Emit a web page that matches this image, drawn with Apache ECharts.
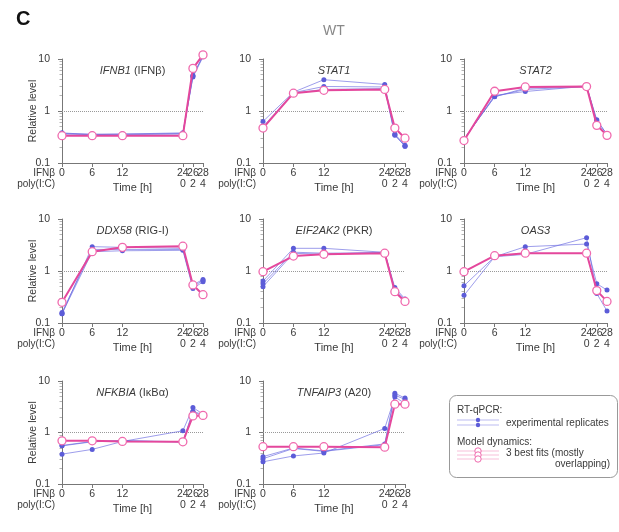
<!DOCTYPE html>
<html>
<head>
<meta charset="utf-8">
<script src="https://cdn.jsdelivr.net/npm/echarts@6/dist/echarts.min.js"></script>
<style>
  html, body { margin: 0; padding: 0; background: #fff; }
  #chart { width: 619px; height: 532px; }
</style>
</head>
<body>
<div id="chart"></div>
<script>
// time points (h) and x tick labels (IFNb time / poly(I:C) time)
const times = [0, 6, 12, 24, 26, 28]
const xTickValues = [0, 6, 12, 24, 26, 28]
const xTickLabels = ['0', '6', '12', '24\n0', '26\n2', '28\n4']
const xLabelsMain = [0, 6, 12, 24, 28]   // 26 goes on an overlay axis, too tight otherwise
const xLabelsExtra = [26]
const yTickLabels = { '0.1': '0.1', '1': '1', '10': '10' }
const yMinorTicks = [0.2, 0.3, 0.4, 0.5, 0.6, 0.7, 0.8, 0.9, 2, 3, 4, 5, 6, 7, 8, 9]

const genes = ['IFNB1', 'STAT1', 'STAT2', 'DDX58', 'EIF2AK2', 'OAS3', 'NFKBIA', 'TNFAIP3']
const proteins = ['IFNβ', '', '', 'RIG-I', 'PKR', '', 'IκBα', 'A20']

// RT-qPCR replicates
const ifnb1Reps = [
  [0.38, 0.35, 0.36, 0.38, 4.7, 11.4],
  [0.37, 0.36, 0.36, 0.37, 4.5, 11.0],
  [0.36, 0.35, 0.35, 0.36, 4.8, 11.6]
]
const stat1Reps = [
  [0.63, 2.3, 4.0, 3.24, 0.35, 0.21],
  [0.50, 2.25, 2.96, 2.9, 0.36, 0.22],
  [0.47, 2.2, 2.6, 2.7, 0.34, 0.21]
]
const stat2Reps = [
  [0.29, 1.87, 2.75, 3.0, 0.68, 0.35],
  [0.28, 2.0, 2.37, 3.0, 0.6, 0.33],
  [0.29, 1.9, 2.6, 2.95, 0.65, 0.36]
]
const ddx58Reps = [
  [0.15, 2.94, 2.85, 2.73, 0.54, 0.69],
  [0.15, 2.35, 2.45, 2.5, 0.46, 0.62],
  [0.16, 2.6, 2.6, 2.6, 0.5, 0.66]
]
const eif2ak2Reps = [
  [0.64, 2.73, 2.73, 2.29, 0.48, 0.29],
  [0.50, 2.19, 2.1, 2.29, 0.40, 0.27],
  [0.57, 2.3, 2.2, 2.25, 0.44, 0.28]
]
const oas3Reps = [
  [0.52, 1.88, 2.93, 3.3, 0.57, 0.43],
  [0.34, 1.88, 2.09, 4.37, 0.37, 0.17]
]
const nfkbiaReps = [
  [0.38, 0.47, 0.67, 1.08, 3.06, 2.27],
  [0.55, 0.66, 0.69, 0.65, 2.5, 2.1],
  [0.56, 0.67, 0.70, 0.66, 2.6, 2.2]
]
const tnfaip3Reps = [
  [0.34, 0.50, 0.44, 0.6, 5.8, 4.66],
  [0.27, 0.35, 0.40, 1.2, 4.9, 3.66],
  [0.31, 0.49, 0.43, 0.58, 5.3, 4.4]
]

// model best fits
const ifnb1Model = [0.335, 0.335, 0.335, 0.335, 6.6, 12]
const stat1Model = [0.47, 2.2, 2.5, 2.6, 0.47, 0.30]
const stat2Model = [0.27, 2.4, 2.9, 2.95, 0.53, 0.34]
const ddx58Model = [0.25, 2.35, 2.85, 3.0, 0.54, 0.35]
const eif2ak2Model = [0.97, 1.94, 2.1, 2.2, 0.40, 0.26]
const oas3Model = [0.97, 1.97, 2.2, 2.2, 0.42, 0.26]
const nfkbiaModel = [0.69, 0.69, 0.67, 0.66, 2.1, 2.15]
const tnfaip3Model = [0.53, 0.53, 0.53, 0.52, 3.55, 3.55]

const allReps = [ifnb1Reps, stat1Reps, stat2Reps, ddx58Reps, eif2ak2Reps, oas3Reps, nfkbiaReps, tnfaip3Reps]
const allModels = [ifnb1Model, stat1Model, stat2Model, ddx58Model, eif2ak2Model, oas3Model, nfkbiaModel, tnfaip3Model]

const FONT = '"Liberation Sans", Arial, sans-serif'
const TXT = '#3a3a3a'
const AXIS = '#777'
const BLUE = '#5c5cd8'
const BLUE_LINE = 'rgba(105, 105, 225, 0.65)'
const PINK = '#e4479c'
const PINK_RING = '#f06aae'

const colLeft = [62, 263, 464]
const colWidth = [141, 142, 143]
const rowTop = [59, 219, 381]
const rowHeight = [104, 104, 103]
const yOffset = 6

const pairs = (vals) => vals.map((v, k) => [times[k], v])
const xLabelText = v => xTickLabels[xTickValues.indexOf(v)]

const grids = []
const xAxes = []
const extraXAxes = []
const yAxes = []
const minorYAxes = []
const series = []
const graphics = []

genes.forEach((gene, i) => {
  const col = i % 3
  const row = Math.floor(i / 3)
  const left = colLeft[col]
  const top = rowTop[row]
  const w = colWidth[col]
  const h = rowHeight[row]
  grids.push({ left: left, top: top, width: w, height: h })
  const labelStyle = {
    formatter: xLabelText,
    showMinLabel: true,
    showMaxLabel: true,
    hideOverlap: false,
    color: TXT, fontSize: 10.5, fontFamily: FONT, lineHeight: 11, margin: 5
  }
  xAxes.push({
    type: 'value',
    gridIndex: i,
    min: 0,
    max: 28,
    name: 'Time [h]',
    nameLocation: 'middle',
    nameGap: 19,
    nameMoveOverlap: false,
    nameTextStyle: { color: TXT, fontSize: 11, fontFamily: FONT },
    axisLine: { lineStyle: { color: AXIS } },
    axisTick: { customValues: xTickValues, length: 4, lineStyle: { color: AXIS } },
    axisLabel: Object.assign({ customValues: xLabelsMain }, labelStyle),
    splitLine: { show: false }
  })
  extraXAxes.push({
    type: 'value',
    gridIndex: i,
    position: 'bottom',
    min: 0,
    max: 28,
    axisLine: { show: false },
    axisTick: { show: false },
    axisLabel: Object.assign({ customValues: xLabelsExtra }, labelStyle),
    splitLine: { show: false }
  })
  yAxes.push({
    type: 'log',
    logBase: 10,
    gridIndex: i,
    min: 0.1,
    max: 10,
    offset: yOffset,
    axisLine: { show: true, lineStyle: { color: AXIS } },
    axisTick: { show: true, length: 4, lineStyle: { color: AXIS } },
    minorTick: { show: false },
    axisLabel: {
      formatter: v => yTickLabels[String(+v.toPrecision(3))] || '',
      color: TXT, fontSize: 10.5, fontFamily: FONT, margin: 6
    },
    splitLine: { show: false }
  })
  minorYAxes.push({
    type: 'log',
    logBase: 10,
    gridIndex: i,
    position: 'left',
    min: 0.1,
    max: 10,
    offset: yOffset,
    axisLine: { show: false },
    axisTick: { show: true, customValues: yMinorTicks, length: 2.5, lineStyle: { color: '#b5b5b5' } },
    axisLabel: { show: false },
    splitLine: { show: false }
  })
  allReps[i].forEach((rep) => {
    series.push({
      type: 'line',
      xAxisIndex: i,
      yAxisIndex: i,
      data: pairs(rep),
      symbol: 'circle',
      symbolSize: 5,
      clip: false,
      itemStyle: { color: BLUE },
      lineStyle: { color: BLUE_LINE, width: 1 },
      z: 3,
      silent: true
    })
  })
  series.push({
    type: 'line',
    xAxisIndex: i,
    yAxisIndex: i,
    data: pairs(allModels[i]),
    symbol: 'circle',
    symbolSize: 8,
    clip: false,
    itemStyle: { color: '#fff', borderColor: PINK_RING, borderWidth: 1.3 },
    lineStyle: { color: PINK, width: 2 },
    z: 4,
    silent: true,
    markLine: {
      silent: true,
      symbol: 'none',
      label: { show: false },
      lineStyle: { color: '#999', type: 'dotted', width: 1 },
      data: [{ yAxis: 1 }],
      z: 1
    }
  })

  // gene title
  const prot = proteins[i] ? ' (' + proteins[i] + ')' : ''
  graphics.push({
    type: 'text',
    x: left + w / 2,
    y: top + 12,
    style: {
      text: '{g|' + gene + '}' + prot,
      align: 'center',
      verticalAlign: 'middle',
      fill: TXT,
      fontSize: 11,
      fontFamily: FONT,
      rich: { g: { fontStyle: 'italic', fontSize: 11, fontFamily: FONT, fill: TXT } }
    }
  })
  // treatment row labels
  graphics.push({
    type: 'text', x: left - 7, y: top + h + 10.5,
    style: { text: 'IFNβ', align: 'right', verticalAlign: 'middle', fill: TXT, fontSize: 10, fontFamily: FONT }
  })
  graphics.push({
    type: 'text', x: left - 7, y: top + h + 21.5,
    style: { text: 'poly(I:C)', align: 'right', verticalAlign: 'middle', fill: TXT, fontSize: 10, fontFamily: FONT }
  })
  if (col === 0) {
    graphics.push({
      type: 'text', x: 33, y: top + h / 2, rotation: Math.PI / 2,
      style: { text: 'Relative level', align: 'center', verticalAlign: 'middle', fill: TXT, fontSize: 10.5, fontFamily: FONT }
    })
  }
})

// panel letter and condition
graphics.push({
  type: 'text', x: 16, y: 19,
  style: { text: 'C', align: 'left', verticalAlign: 'middle', fill: '#111', fontSize: 20, fontWeight: 'bold', fontFamily: FONT }
})
graphics.push({
  type: 'text', x: 334, y: 31,
  style: { text: 'WT', align: 'center', verticalAlign: 'middle', fill: '#888', fontSize: 14, fontFamily: FONT }
})

// legend box
graphics.push({
  type: 'rect',
  shape: { x: 449.5, y: 395.5, width: 168, height: 82, r: 7 },
  style: { fill: 'none', stroke: '#999', lineWidth: 1 }
})
const legendText = (text, x, y, align) => ({
  type: 'text', x: x, y: y,
  style: { text: text, align: align || 'left', verticalAlign: 'middle', fill: TXT, fontSize: 10, fontFamily: FONT }
})
graphics.push(legendText('RT-qPCR:', 457, 410))
graphics.push(legendText('experimental replicates', 506, 423))
graphics.push(legendText('Model dynamics:', 457, 442))
graphics.push(legendText('3 best fits (mostly', 506, 453))
graphics.push(legendText('overlapping)', 610, 464, 'right'))
;[420, 425].forEach(y => {
  graphics.push({ type: 'line', shape: { x1: 457, y1: y, x2: 499, y2: y }, style: { stroke: 'rgba(105,105,225,0.45)', lineWidth: 1 } })
})
;[420, 425].forEach(y => {
  graphics.push({ type: 'circle', shape: { cx: 478, cy: y, r: 2.2 }, style: { fill: BLUE } })
})
;[451, 455, 459].forEach(y => {
  graphics.push({ type: 'line', shape: { x1: 457, y1: y, x2: 499, y2: y }, style: { stroke: 'rgba(236,110,170,0.45)', lineWidth: 1 } })
})
;[451, 455, 459].forEach(y => {
  graphics.push({ type: 'circle', shape: { cx: 478, cy: y, r: 3.2 }, style: { fill: '#fff', stroke: PINK_RING, lineWidth: 1 } })
})

const chart = echarts.init(document.getElementById('chart'))
chart.setOption({
  animation: false,
  backgroundColor: '#fff',
  textStyle: { fontFamily: FONT },
  grid: grids,
  xAxis: xAxes.concat(extraXAxes),
  yAxis: yAxes.concat(minorYAxes),
  series: series,
  graphic: graphics
})
</script>
</body>
</html>
